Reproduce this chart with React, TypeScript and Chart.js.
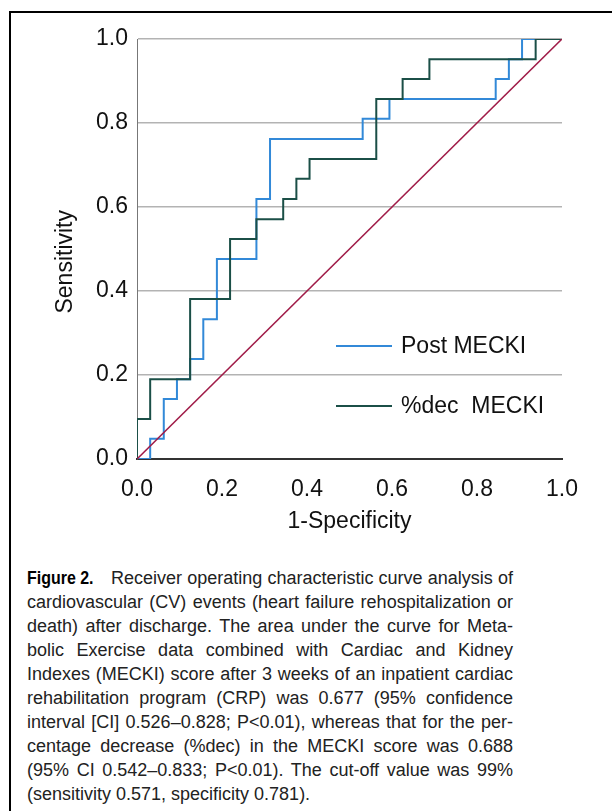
import React, { useEffect, useRef } from "react";
import { Chart, registerables } from "chart.js";

Chart.register(...registerables);

// Post MECKI ROC vertices (1-specificity, sensitivity)
const postFpr = [0, 0.031, 0.063, 0.094, 0.125, 0.156, 0.188, 0.281, 0.313, 0.531, 0.594, 0.844, 0.875, 0.906, 1.0];
const postTpr = [0, 0.048, 0.143, 0.19, 0.238, 0.333, 0.476, 0.619, 0.762, 0.81, 0.857, 0.905, 0.952, 1.0, 1.0];

// %dec MECKI ROC vertices
const decFpr = [0, 0, 0.031, 0.125, 0.219, 0.281, 0.344, 0.375, 0.406, 0.563, 0.625, 0.688, 0.938, 1.0];
const decTpr = [0, 0.095, 0.19, 0.381, 0.524, 0.571, 0.619, 0.667, 0.714, 0.857, 0.905, 0.952, 1.0, 1.0];

// Reference line
const refX = [0, 1];
const refY = [0, 1];

const seriesNames = ["Post MECKI", "%dec  MECKI"];
const xTitle = "1-Specificity";
const yTitle = "Sensitivity";

const captionBold = "Figure 2.";
const captionLines = [
  "Receiver operating characteristic curve analysis of",
  "cardiovascular (CV) events (heart failure rehospitalization or",
  "death) after discharge. The area under the curve for Meta-",
  "bolic Exercise data combined with Cardiac and Kidney",
  "Indexes (MECKI) score after 3 weeks of an inpatient cardiac",
  "rehabilitation program (CRP) was 0.677 (95% confidence",
  "interval [CI] 0.526\u20130.828; P<0.01), whereas that for the per-",
  "centage decrease (%dec) in the MECKI score was 0.688",
  "(95% CI 0.542\u20130.833; P<0.01). The cut-off value was 99%",
  "(sensitivity 0.571, specificity 0.781).",
];

const FONT = "'Liberation Sans', Arial, Helvetica, sans-serif";
const BLUE = "#3289d8";
const GREEN = "#1b4f47";
const RED = "#a01c48";

const zip = (xs: number[], ys: number[]) => xs.map((x, i) => ({ x, y: ys[i] }));

const legendPlugin = {
  id: "customLegend",
  afterDraw(chart: any) {
    const { ctx, chartArea } = chart;
    const items = [
      { label: seriesNames[0], color: BLUE, dy: 0 },
      { label: seriesNames[1], color: GREEN, dy: 60 },
    ];
    const x0 = chartArea.left + 199;
    const y0 = chartArea.top + 307;
    ctx.save();
    ctx.font = `23px ${FONT}`;
    ctx.textBaseline = "middle";
    ctx.textAlign = "left";
    items.forEach((it) => {
      ctx.strokeStyle = it.color;
      ctx.lineWidth = 2;
      ctx.beginPath();
      ctx.moveTo(x0, y0 + it.dy);
      ctx.lineTo(x0 + 56, y0 + it.dy);
      ctx.stroke();
      ctx.fillStyle = "#111";
      ctx.fillText(it.label, x0 + 65, y0 + it.dy + 1);
    });
    ctx.restore();
  },
};

function RocChart() {
  const ref = useRef<HTMLCanvasElement | null>(null);
  useEffect(() => {
    if (!ref.current) return;
    const chart = new Chart(ref.current, {
      type: "line",
      data: {
        datasets: [
          {
            label: "Reference",
            data: zip(refX, refY),
            borderColor: RED,
            borderWidth: 1.6,
            pointRadius: 0,
            fill: false,
          },
          {
            label: seriesNames[1],
            data: zip(decFpr, decTpr),
            borderColor: GREEN,
            borderWidth: 2,
            pointRadius: 0,
            stepped: "before",
            fill: false,
          },
          {
            label: seriesNames[0],
            data: zip(postFpr, postTpr),
            borderColor: BLUE,
            borderWidth: 2,
            pointRadius: 0,
            stepped: "before",
            fill: false,
          },
        ],
      },
      options: {
        animation: false,
        responsive: false,
        maintainAspectRatio: false,
        layout: { padding: { left: 0, right: 50, top: 39, bottom: 0 } },
        plugins: { legend: { display: false }, tooltip: { enabled: false } },
        scales: {
          x: {
            type: "linear",
            min: 0,
            max: 1,
            afterFit: (s: any) => {
              s.height = 86;
            },
            ticks: {
              stepSize: 0.2,
              padding: 17,
              color: "#111",
              font: { family: FONT, size: 23 },
              callback: (v: any) => Number(v).toFixed(1),
            },
            grid: { display: false, drawTicks: false },
            border: { display: true, color: "#333", width: 2 },
            title: {
              display: true,
              text: xTitle,
              color: "#111",
              font: { family: FONT, size: 23 },
              padding: { top: 0, bottom: 10 },
            },
          },
          y: {
            type: "linear",
            min: 0,
            max: 1,
            afterFit: (s: any) => {
              s.width = 137;
            },
            ticks: {
              stepSize: 0.2,
              padding: 9,
              color: "#111",
              font: { family: FONT, size: 23 },
              callback: (v: any) => Number(v).toFixed(1),
            },
            grid: {
              drawTicks: false,
              lineWidth: 1.5,
              color: (c: any) => (c.tick && c.tick.value === 0 ? "rgba(0,0,0,0)" : "#b3b3b3"),
            },
            border: { display: true, color: "#777", width: 1 },
            title: {
              display: true,
              text: yTitle + "    ",
              color: "#111",
              font: { family: FONT, size: 23 },
              padding: { top: 52, bottom: 0 },
            },
          },
        },
      },
      plugins: [legendPlugin],
    } as any);
    return () => chart.destroy();
  }, []);
  return (
    <canvas
      ref={ref}
      width={612}
      height={545}
      style={{ position: "absolute", left: 0, top: 0, width: 612, height: 545 }}
    />
  );
}

export default function App() {
  useEffect(() => {
    document.body.style.margin = "0";
  }, []);
  const lineStyle: React.CSSProperties = {
    textAlign: "justify",
    textAlignLast: "justify" as any,
    whiteSpace: "nowrap",
    height: 24,
    lineHeight: "24px",
  };
  return (
    <div style={{ position: "relative", width: 612, height: 811, overflow: "hidden", background: "#fff" }}>
      <div
        style={{
          position: "absolute",
          left: 9,
          top: 11,
          width: 700,
          height: 900,
          borderTop: "2px solid #000",
          borderLeft: "2px solid #000",
        }}
      />
      <RocChart />
      <div
        style={{
          position: "absolute",
          left: 27,
          top: 566,
          width: 486,
          fontFamily: FONT,
          fontSize: 18,
          color: "#222",
        }}
      >
        {captionLines.map((ln, i) => (
          <div key={i} style={i === captionLines.length - 1 ? { ...lineStyle, textAlignLast: "left" as any } : lineStyle}>
            {i === 0 ? (
              <span style={{ display: "inline-block", width: 84, verticalAlign: "top", whiteSpace: "nowrap" }}>
                <span
                  style={{
                    display: "inline-block",
                    fontWeight: "bold",
                    fontSize: 19,
                    color: "#000",
                    transform: "scaleX(0.84)",
                    transformOrigin: "left center",
                  }}
                >
                  {captionBold}
                </span>
              </span>
            ) : null}
            {ln}
          </div>
        ))}
      </div>
    </div>
  );
}
